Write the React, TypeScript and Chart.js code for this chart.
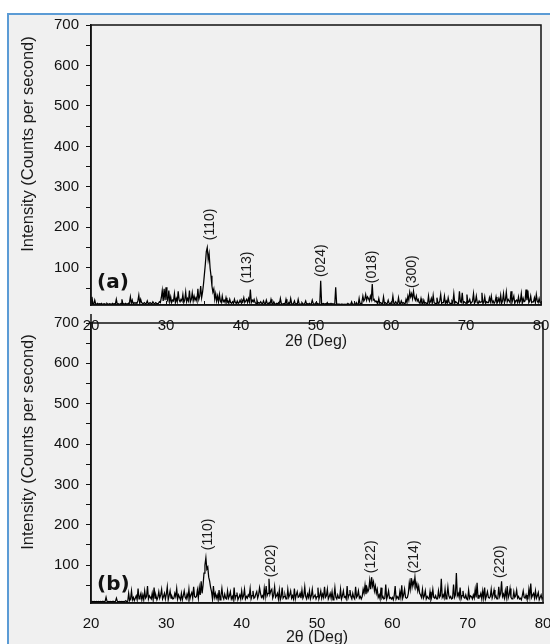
import React, { useEffect, useRef } from 'react';
import { Chart, registerables } from 'chart.js';
Chart.register(...registerables);

// Sampling grid of the diffractograms (2θ, degrees)
const X_START = 20;
const X_STEP = 0.125;

// Panel (a) intensities (counts per second), 8 values per degree from 20° to 80°
const INTENSITY_A = [
  12, 28, 11, 10, 20, 11, 10, 12,
  10, 11, 10, 12, 10, 10, 11, 10,
  10, 12, 10, 10, 11, 10, 10, 12,
  10, 11, 10, 22, 10, 11, 10, 10,
  12, 22, 10, 11, 10, 12, 10, 11,
  12, 14, 28, 12, 20, 11, 14, 12,
  14, 12, 18, 32, 12, 22, 14, 12,
  12, 14, 11, 12, 18, 11, 12, 14,
  12, 11, 16, 12, 11, 14, 12, 11,
  12, 16, 14, 26, 44, 18, 48, 20,
  52, 22, 18, 44, 16, 28, 14, 20,
  18, 36, 14, 24, 16, 42, 20, 16,
  22, 18, 34, 14, 20, 40, 16, 24,
  18, 44, 16, 22, 38, 18, 30, 20,
  26, 18, 48, 22, 30, 55, 26, 40,
  60, 85, 110, 140, 150, 120, 135, 100,
  80, 55, 40, 48, 22, 36, 18, 30,
  16, 34, 18, 14, 30, 16, 20, 14,
  26, 14, 18, 12, 22, 14, 12, 16,
  12, 22, 14, 12, 18, 12, 14, 20,
  14, 20, 16, 26, 14, 18, 22, 14,
  24, 16, 46, 14, 20, 16, 22, 14,
  12, 20, 12, 14, 12, 16, 12, 11,
  18, 12, 11, 20, 12, 10, 14, 11,
  22, 12, 10, 16, 11, 10, 12, 10,
  14, 11, 24, 12, 10, 11, 12, 10,
  22, 11, 10, 14, 10, 24, 12, 10,
  12, 18, 10, 11, 10, 22, 11, 10,
  10, 14, 11, 10, 12, 18, 10, 11,
  10, 12, 10, 11, 20, 12, 10, 11,
  14, 10, 11, 10, 10, 68, 10, 11,
  12, 10, 11, 10, 14, 10, 11, 10,
  12, 10, 11, 10, 10, 52, 11, 10,
  10, 10, 9, 10, 10, 9, 10, 9,
  10, 9, 12, 10, 9, 10, 16, 9,
  10, 9, 9, 14, 10, 9, 24, 10,
  12, 16, 30, 18, 22, 34, 20, 28,
  24, 18, 30, 22, 60, 20, 22, 16,
  18, 14, 12, 24, 12, 14, 12, 11,
  28, 12, 14, 11, 12, 20, 12, 11,
  14, 12, 30, 12, 11, 16, 12, 11,
  26, 12, 11, 18, 12, 14, 12, 11,
  22, 14, 30, 20, 40, 28, 36, 24,
  42, 26, 20, 30, 18, 22, 14, 12,
  24, 12, 11, 20, 12, 14, 12, 11,
  30, 12, 16, 24, 12, 32, 14, 12,
  12, 26, 14, 12, 18, 34, 12, 14,
  14, 30, 12, 18, 12, 26, 14, 12,
  12, 18, 14, 36, 12, 16, 14, 12,
  12, 42, 16, 14, 38, 12, 16, 14,
  12, 34, 14, 16, 22, 12, 14, 18,
  36, 12, 16, 30, 14, 12, 18, 14,
  16, 38, 12, 14, 28, 12, 16, 14,
  14, 26, 16, 30, 14, 18, 12, 16,
  28, 12, 16, 24, 14, 32, 12, 18,
  36, 14, 20, 40, 16, 22, 18, 14,
  42, 14, 22, 30, 12, 18, 20, 14,
  28, 14, 18, 36, 12, 24, 16, 18,
  46, 20, 44, 14, 18, 30, 14, 16,
  16, 26, 14, 34, 18, 14, 24, 14,
  14,
];

// Panel (b) intensities (counts per second), 8 values per degree from 20° to 80°
const INTENSITY_B = [
  10, 9, 10, 9, 10, 9, 10, 9,
  10, 9, 10, 9, 10, 10, 9, 10,
  20, 10, 9, 10, 9, 10, 9, 10,
  10, 9, 10, 18, 10, 9, 10, 9,
  10, 9, 10, 9, 10, 12, 9, 10,
  30, 12, 16, 36, 14, 20, 12, 18,
  24, 14, 42, 16, 22, 30, 14, 26,
  14, 36, 18, 22, 48, 16, 24, 20,
  16, 30, 14, 44, 18, 24, 14, 20,
  34, 18, 26, 40, 16, 22, 30, 16,
  28, 46, 14, 24, 36, 18, 22, 16,
  18, 30, 22, 42, 16, 26, 20, 14,
  30, 14, 24, 36, 20, 16, 28, 18,
  40, 16, 26, 32, 18, 46, 22, 20,
  22, 38, 18, 44, 26, 60, 30, 50,
  80, 100, 118, 90, 95, 70, 60, 45,
  34, 16, 48, 20, 30, 18, 26, 14,
  38, 14, 24, 42, 22, 16, 28, 18,
  16, 36, 18, 24, 34, 16, 22, 14,
  44, 16, 24, 32, 14, 20, 26, 16,
  36, 18, 24, 40, 16, 22, 18, 26,
  22, 42, 16, 24, 36, 18, 20, 28,
  34, 18, 26, 44, 30, 20, 24, 18,
  42, 22, 48, 24, 30, 66, 28, 36,
  40, 18, 26, 46, 20, 24, 30, 16,
  38, 14, 22, 44, 18, 22, 26, 16,
  16, 40, 20, 26, 36, 18, 24, 16,
  42, 16, 26, 34, 20, 22, 30, 18,
  38, 18, 24, 46, 22, 16, 28, 20,
  36, 16, 24, 40, 18, 22, 26, 16,
  22, 44, 16, 24, 36, 18, 28, 20,
  46, 20, 24, 40, 16, 22, 30, 18,
  34, 14, 22, 44, 20, 16, 26, 18,
  18, 40, 16, 24, 36, 20, 22, 16,
  48, 18, 26, 38, 22, 16, 30, 20,
  16, 46, 20, 24, 36, 18, 22, 16,
  22, 40, 30, 50, 28, 44, 34, 40,
  62, 40, 70, 48, 58, 36, 48, 30,
  40, 20, 26, 16, 44, 18, 22, 16,
  18, 52, 16, 24, 36, 18, 20, 16,
  20, 14, 24, 48, 16, 22, 18, 16,
  34, 20, 50, 18, 26, 40, 20, 18,
  20, 30, 56, 40, 68, 46, 60, 50,
  70, 44, 54, 36, 48, 30, 26, 20,
  40, 18, 24, 36, 16, 22, 18, 16,
  34, 14, 22, 40, 20, 18, 24, 16,
  16, 36, 20, 24, 66, 20, 26, 18,
  40, 16, 24, 46, 24, 18, 22, 16,
  18, 52, 20, 26, 80, 24, 30, 20,
  44, 16, 24, 36, 20, 18, 26, 16,
  14, 38, 18, 24, 22, 16, 26, 18,
  40, 20, 56, 18, 24, 22, 30, 16,
  36, 18, 44, 16, 24, 34, 20, 18,
  22, 40, 18, 26, 38, 20, 24, 16,
  16, 46, 22, 30, 60, 22, 28, 18,
  36, 20, 48, 18, 26, 42, 20, 16,
  16, 34, 20, 24, 38, 18, 22, 16,
  18, 14, 24, 36, 20, 18, 26, 16,
  16, 40, 22, 54, 20, 26, 30, 18,
  36, 18, 24, 32, 14, 20, 26, 16,
  20,
];

const X_TICKS = [20, 30, 40, 50, 60, 70, 80];
const X_MINOR_TICKS = [25, 35, 45, 55, 65, 75];
const Y_TICKS = [50, 100, 150, 200, 250, 300, 350, 400, 450, 500, 550, 600, 650, 700];

const PEAK_NAMES_A = ['(110)', '(113)', '(024)', '(018)', '(300)'];
const PEAK_POS_A = [35.9, 40.8, 50.7, 57.5, 62.8];
const PEAK_BASE_A = [168, 62, 77, 62, 50];

const PEAK_NAMES_B = ['(110)', '(202)', '(122)', '(214)', '(220)'];
const PEAK_POS_B = [35.6, 43.9, 57.2, 62.9, 74.3];
const PEAK_BASE_B = [137, 70, 80, 80, 68];

const Y_TITLE = 'Intensity (Counts per second)';
const X_TITLE = '2θ (Deg)';

const FONT = '"Liberation Sans", Arial, sans-serif';
Chart.defaults.font.family = FONT;

type PanelProps = {
  values: number[];
  yMin: number;
  letter: string;
  peakNames: string[];
  peakPos: number[];
  peakBase: number[];
  top: number;
  height: number;
  padTop: number;
  padRight: number;
  axisH: number;
  xTitleGap: number;
  letterGap: number;
  innerTicks: boolean;
};

function Panel(p: PanelProps) {
  const ref = useRef<HTMLCanvasElement>(null);
  useEffect(() => {
    const pts = p.values.map((v, i) => ({ x: X_START + i * X_STEP, y: v }));
    const decor = {
      id: 'decor',
      afterDraw(chart: any) {
        const { ctx, chartArea: a, scales } = chart;
        const xs = scales.x;
        const ys = scales.y;
        ctx.save();
        ctx.strokeStyle = '#111';
        ctx.lineWidth = 1.5;
        ctx.strokeRect(a.left, a.top, a.right - a.left, a.bottom - a.top);
        if (p.innerTicks) {
          ctx.lineWidth = 1;
          [...X_TICKS, ...X_MINOR_TICKS].forEach((t) => {
            const px = Math.round(xs.getPixelForValue(t)) + 0.5;
            ctx.beginPath();
            ctx.moveTo(px, a.bottom);
            ctx.lineTo(px, a.bottom - 4);
            ctx.stroke();
          });
        } else {
          ctx.beginPath();
          ctx.moveTo(a.left, a.top);
          ctx.lineTo(a.left, a.top - 9);
          ctx.stroke();
        }
        ctx.fillStyle = '#1a1a1a';
        // y title
        ctx.save();
        ctx.translate(28, (a.top + a.bottom) / 2 - 21);
        ctx.rotate(-Math.PI / 2);
        ctx.font = `16.5px ${FONT}`;
        ctx.textAlign = 'center';
        ctx.textBaseline = 'middle';
        ctx.fillText(Y_TITLE, 0, 0);
        ctx.restore();
        // x title
        ctx.font = `16px ${FONT}`;
        ctx.textAlign = 'center';
        ctx.textBaseline = 'middle';
        ctx.fillText(X_TITLE, (a.left + a.right) / 2, a.bottom + p.xTitleGap);
        // panel letter
        ctx.font = `bold 20px "DejaVu Sans", sans-serif`;
        ctx.textAlign = 'left';
        ctx.fillStyle = '#111';
        ctx.fillText(p.letter, a.left + 6, a.bottom - p.letterGap);
        // peak labels
        ctx.fillStyle = '#1a1a1a';
        ctx.font = `14px ${FONT}`;
        p.peakNames.forEach((name, i) => {
          const px = xs.getPixelForValue(p.peakPos[i]);
          const py = ys.getPixelForValue(p.peakBase[i]);
          ctx.save();
          ctx.translate(px, py);
          ctx.rotate(-Math.PI / 2);
          ctx.textAlign = 'left';
          ctx.textBaseline = 'middle';
          ctx.fillText(name, 0, 0);
          ctx.restore();
        });
        ctx.restore();
      },
    };
    const chart = new Chart(ref.current as HTMLCanvasElement, {
      type: 'line',
      data: {
        datasets: [
          {
            data: pts,
            borderColor: '#000',
            borderWidth: 1.25,
            pointRadius: 0,
            tension: 0,
          },
        ],
      },
      options: {
        responsive: false,
        animation: false,
        events: [],
        layout: { padding: { left: 0, top: p.padTop, right: p.padRight, bottom: 0 } },
        plugins: { legend: { display: false }, tooltip: { enabled: false } },
        scales: {
          x: {
            type: 'linear',
            min: 20,
            max: 80,
            afterBuildTicks: (s: any) => {
              s.ticks = X_TICKS.map((v) => ({ value: v }));
            },
            afterFit: (s: any) => {
              s.height = p.axisH;
              s.paddingLeft = 0;
              s.paddingRight = 0;
            },
            ticks: { font: { size: 15 }, color: '#111', padding: 4, maxRotation: 0, autoSkip: false },
            grid: { display: false },
            border: { display: true, color: '#111', width: 1.5 },
          },
          y: {
            type: 'linear',
            min: p.yMin,
            max: 700,
            afterBuildTicks: (s: any) => {
              s.ticks = Y_TICKS.map((v) => ({ value: v }));
            },
            afterFit: (s: any) => {
              s.width = 91;
              s.paddingTop = 0;
              s.paddingBottom = 0;
            },
            ticks: {
              font: { size: 15 },
              color: '#111',
              padding: 7,
              autoSkip: false,
              callback: (v: any) => (Number(v) % 100 === 0 ? String(v) : ''),
            },
            grid: { drawOnChartArea: false, drawTicks: true, tickLength: 5, color: '#111' },
            border: { display: true, color: '#111', width: 1.5 },
          },
        },
      },
      plugins: [decor],
    });
    return () => chart.destroy();
  }, []);
  return (
    <canvas
      ref={ref}
      width={550}
      height={p.height}
      style={{ position: 'absolute', left: 0, top: p.top, width: 550, height: p.height }}
    />
  );
}

export default function App() {
  return (
    <div
      style={{
        position: 'absolute',
        left: 0,
        top: 0,
        width: 550,
        height: 644,
        overflow: 'hidden',
        background: '#ffffff',
      }}
    >
      <div
        style={{
          position: 'absolute',
          left: 7,
          top: 13,
          width: 560,
          height: 660,
          background: '#f0f0f0',
          border: '2px solid #5b9bd5',
        }}
      />
      <Panel
        values={INTENSITY_B}
        yMin={6}
        letter="(b)"
        peakNames={PEAK_NAMES_B}
        peakPos={PEAK_POS_B}
        peakBase={PEAK_BASE_B}
        top={300}
        height={344}
        padTop={23}
        padRight={7}
        axisH={41}
        xTitleGap={35}
        letterGap={18}
        innerTicks={false}
      />
      <Panel
        values={INTENSITY_A}
        yMin={8}
        letter="(a)"
        peakNames={PEAK_NAMES_A}
        peakPos={PEAK_POS_A}
        peakBase={PEAK_BASE_A}
        top={0}
        height={355}
        padTop={25}
        padRight={9}
        axisH={50}
        xTitleGap={37}
        letterGap={22}
        innerTicks={true}
      />
    </div>
  );
}
